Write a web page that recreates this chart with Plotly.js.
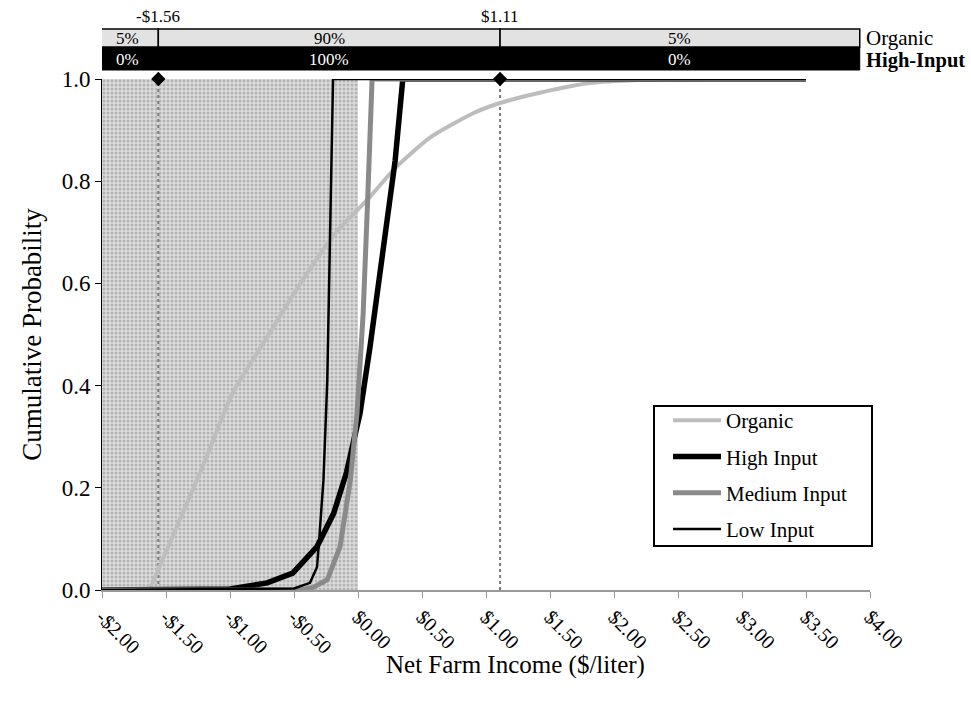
<!DOCTYPE html>
<html>
<head>
<meta charset="utf-8">
<script src="https://cdn.plot.ly/plotly-3.0.1.min.js"></script>
<style>html,body{margin:0;padding:0;background:#fff;}#chart{width:971px;height:708px;}</style>
</head>
<body>
<div id="chart"></div>
<script>
// ---- data ----
const organicX = [-1.63, -1.5, -1.37, -1.2, -0.98, -0.71, -0.45, -0.17, 0.07, 0.30, 0.56, 0.90, 1.11, 1.42, 1.81, 2.2, 2.8, 3.5];
const organicY = [0, 0.075, 0.15, 0.25, 0.385, 0.495, 0.60, 0.70, 0.763, 0.828, 0.885, 0.933, 0.953, 0.973, 0.992, 0.998, 1.0, 1.0];

const highX = [-2.0, -1.0, -0.71, -0.51, -0.32, -0.19, -0.09, 0.016, 0.094, 0.17, 0.23, 0.29, 0.35, 3.5];
const highY = [0, 0.002, 0.014, 0.033, 0.085, 0.15, 0.23, 0.346, 0.476, 0.61, 0.72, 0.84, 1.0, 1.0];

const mediumX = [-2.0, -0.45, -0.35, -0.24, -0.14, -0.06, -0.008, 0.04, 0.075, 0.11, 3.5];
const mediumY = [0, 0, 0.005, 0.02, 0.085, 0.215, 0.346, 0.54, 0.76, 1.0, 1.0];

const lowX = [-2.0, -0.5, -0.375, -0.32, -0.30, -0.27, -0.24, -0.22, -0.195, 3.5];
const lowY = [0, 0.003, 0.014, 0.045, 0.11, 0.215, 0.41, 0.67, 1.0, 1.0];

const lossRange = [-2.0, 0.0];          // shaded negative-income region
const thresholds = [-1.56, 1.11];       // 5% / 95% bounds of Organic
const thresholdLabels = ['-$1.56', '$1.11'];
const organicPct = ['5%', '90%', '5%'];
const highInputPct = ['0%', '100%', '0%'];

const tickVals = [-2.0, -1.5, -1.0, -0.5, 0.0, 0.5, 1.0, 1.5, 2.0, 2.5, 3.0, 3.5, 4.0];
const tickText = ['-$2.00', '-$1.50', '-$1.00', '-$0.50', '$0.00', '$0.50', '$1.00', '$1.50', '$2.00', '$2.50', '$3.00', '$3.50', '$4.00'];

// ---- traces ----
const FONT = 'Liberation Serif, Times New Roman, serif';
const traces = [];

traces.push({
  x: [lossRange[0], lossRange[1], lossRange[1], lossRange[0], lossRange[0]],
  y: [0, 0, 1, 1, 0],
  type: 'scatter', mode: 'lines', fill: 'toself',
  fillcolor: '#d2d2d2',
  fillpattern: {shape: '.', bgcolor: '#dcdcdc', fgcolor: '#b4b4b4', size: 4, solidity: 0.45},
  line: {width: 0}, showlegend: false, hoverinfo: 'skip'
});

thresholds.forEach(t => {
  traces.push({
    x: [t, t], y: [0, 1], type: 'scatter', mode: 'lines',
    line: {color: '#7a7a7a', width: 2, dash: 'dot'}, showlegend: false, hoverinfo: 'skip'
  });
});

traces.push({x: organicX, y: organicY, name: 'Organic', type: 'scatter', mode: 'lines',
  line: {color: '#bdbdbd', width: 4, shape: 'spline', smoothing: 0.6}, legendgroup: 'a', cliponaxis: false});
traces.push({x: highX, y: highY, name: 'High Input', type: 'scatter', mode: 'lines',
  line: {color: '#000000', width: 5.5}, legendgroup: 'b', cliponaxis: false});
traces.push({x: mediumX, y: mediumY, name: 'Medium Input', type: 'scatter', mode: 'lines',
  line: {color: '#8a8a8a', width: 5}, legendgroup: 'c', cliponaxis: false});
traces.push({x: lowX, y: lowY, name: 'Low Input', type: 'scatter', mode: 'lines',
  line: {color: '#000000', width: 2.5}, legendgroup: 'd', cliponaxis: false});

traces.push({
  x: thresholds, y: thresholds.map(() => 1), type: 'scatter', mode: 'markers',
  marker: {symbol: 'diamond', color: '#000', size: 11}, showlegend: false, cliponaxis: false, hoverinfo: 'skip'
});

// ---- top percentage bar ----
const barEdges = [-2.035, thresholds[0], thresholds[1], 3.92];
const row1 = [1.0978, 1.0626];
const row2 = [1.0626, 1.0176];
const shapes = [];
const annotations = [];
shapes.push({type: 'rect', xref: 'x', yref: 'paper', x0: barEdges[0], x1: barEdges[3], y0: row2[1], y1: row2[0],
  fillcolor: '#000', line: {color: '#000', width: 1}, layer: 'above'});
for (let i = 0; i < 3; i++) {
  shapes.push({type: 'rect', xref: 'x', yref: 'paper', x0: barEdges[i], x1: barEdges[i + 1], y0: row1[1], y1: row1[0],
    fillcolor: '#e2e2e2', line: {color: '#000', width: 1.5}, layer: 'above'});
  annotations.push({xref: 'x', yref: 'paper', x: (barEdges[i] + barEdges[i + 1]) / 2, y: 1.0978 - 9 / 511,
    yanchor: 'middle', text: organicPct[i], showarrow: false, font: {family: FONT, size: 17, color: '#000'}});
  annotations.push({xref: 'x', yref: 'paper', x: (barEdges[i] + barEdges[i + 1]) / 2, y: (590 - 59) / 511,
    yanchor: 'middle', text: highInputPct[i], showarrow: false, font: {family: FONT, size: 17, color: '#fff'}});
}
thresholds.forEach((t, i) => {
  annotations.push({xref: 'x', yref: 'paper', x: t, y: (590 - 17) / 511, yanchor: 'middle', text: thresholdLabels[i],
    showarrow: false, font: {family: FONT, size: 17, color: '#000'}});
});
annotations.push({xref: 'paper', yref: 'paper', x: (864 - 102) / 768, y: (590 - 38) / 511, xanchor: 'left', yanchor: 'middle',
  text: 'Organic', showarrow: false, font: {family: FONT, size: 21, color: '#000'}});
annotations.push({xref: 'paper', yref: 'paper', x: (864 - 102) / 768, y: (590 - 61) / 511, xanchor: 'left', yanchor: 'middle',
  text: '<b>High-Input</b>', showarrow: false, font: {family: FONT, size: 20.5, color: '#000'}});

// x-axis title (placed where the reference draws it)
annotations.push({xref: 'paper', yref: 'paper', x: (515 - 102) / 768, y: (590 - 665) / 511, xanchor: 'center', yanchor: 'middle',
  text: 'Net Farm Income ($/liter)', showarrow: false, font: {family: FONT, size: 25, color: '#000'}});

// legend frame
shapes.push({type: 'rect', xref: 'paper', yref: 'paper', x0: (654 - 102) / 768, x1: (872 - 102) / 768,
  y0: (590 - 546) / 511, y1: (590 - 406) / 511, fillcolor: 'rgba(255,255,255,1)', line: {color: '#000', width: 2}, layer: 'above'});

const layout = {
  width: 971, height: 708,
  margin: {l: 102, r: 101, t: 79, b: 118},
  paper_bgcolor: '#fff', plot_bgcolor: '#fff',
  font: {family: FONT, color: '#000'},
  showlegend: true,
  legend: {
    x: (668 - 102) / 768, y: (590 - 400) / 511, xanchor: 'left', yanchor: 'top',
    borderwidth: 0, bgcolor: 'rgba(0,0,0,0)',
    font: {family: FONT, size: 21, color: '#000'},
    traceorder: 'grouped', tracegroupgap: 6, itemwidth: 48
  },
  xaxis: {
    range: [-2, 4], tickvals: tickVals, ticktext: tickText, tickangle: 45,
    tickfont: {family: FONT, size: 20}, showgrid: false, zeroline: false,
    showline: true, linecolor: '#9a9a9a', linewidth: 1.5, ticks: 'outside', ticklen: 6, tickcolor: '#9a9a9a'
  },
  yaxis: {
    range: [0, 1], tickvals: [0, 0.2, 0.4, 0.6, 0.8, 1.0], ticktext: ['0.0', '0.2', '0.4', '0.6', '0.8', '1.0'],
    tickfont: {family: FONT, size: 23}, showgrid: false, zeroline: false,
    showline: true, linecolor: '#000', linewidth: 1, ticks: 'outside', ticklen: 6, tickcolor: '#000',
    title: {text: 'Cumulative Probability', font: {family: FONT, size: 27}, standoff: 12}
  },
  shapes: shapes,
  annotations: annotations
};

Plotly.newPlot('chart', traces, layout, {displayModeBar: false, staticPlot: true});
</script>
</body>
</html>
